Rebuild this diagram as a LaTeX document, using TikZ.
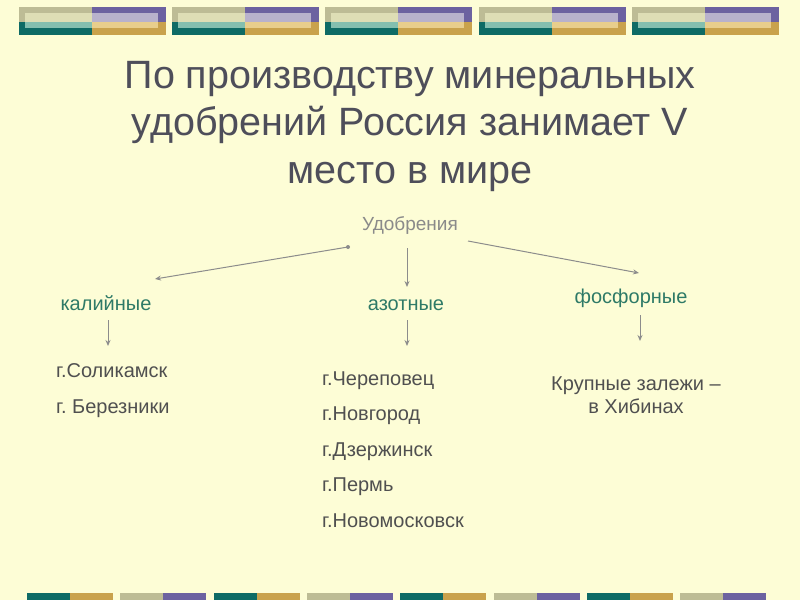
\documentclass[tikz,border=0pt]{standalone}
\usepackage{fontspec}
\setmainfont{Liberation Sans}
\usetikzlibrary{arrows.meta}
\frenchspacing
\definecolor{bg}{HTML}{FDFDD6}
\definecolor{olive}{HTML}{BDBC95}
\definecolor{cream}{HTML}{DEDEB5}
\definecolor{teald}{HTML}{0E6B65}
\definecolor{teall}{HTML}{84BFAF}
\definecolor{purp}{HTML}{6C62A0}
\definecolor{lav}{HTML}{B8B2CC}
\definecolor{gold}{HTML}{C9A24C}
\definecolor{goldl}{HTML}{E8CE8C}
\definecolor{titlec}{HTML}{4E4E5A}
\definecolor{catc}{HTML}{2E7A67}
\definecolor{listc}{HTML}{505050}
\definecolor{rootc}{HTML}{8A8A8A}
\definecolor{arrc}{HTML}{8C8C8C}
\tikzset{
  titletext/.style={anchor=base, text=titlec, font=\fontsize{39.5}{44}\selectfont, inner sep=0},
  roottext/.style={anchor=base, text=rootc, font=\fontsize{19}{22}\selectfont, inner sep=0},
  cattext/.style={anchor=base, text=catc, font=\fontsize{20}{23}\selectfont, inner sep=0},
  listtext/.style={anchor=base west, text=listc, font=\fontsize{20}{23}\selectfont, inner sep=0},
  ctrtext/.style={anchor=base, text=listc, font=\fontsize{20}{23}\selectfont, inner sep=0},
  conn/.style={draw=arrc, line width=1pt, -{Stealth[length=6pt,width=5pt]}},
}
\begin{document}
\begin{tikzpicture}[x=1pt,y=-1pt]
\fill[bg] (0,0) rectangle (800,600);
\useasboundingbox (0,0) rectangle (800,600);
% top bars
\foreach \i in {0,...,4}{
  \pgfmathsetmacro{\xa}{19+153.2*\i}
  \pgfmathsetmacro{\xm}{\xa+73}
  \pgfmathsetmacro{\xb}{\xa+147}
  \fill[olive] (\xa,7) rectangle (\xm,22);
  \fill[purp] (\xm,7) rectangle (\xb,22);
  \fill[teald] (\xa,22) rectangle (\xm,35);
  \fill[gold] (\xm,22) rectangle (\xb,35);
  \fill[cream] (\xa+6,13) rectangle (\xm,22);
  \fill[lav] (\xm,13) rectangle (\xb-8,22);
  \fill[teall] (\xa+6,22) rectangle (\xm,28);
  \fill[goldl] (\xm,22) rectangle (\xb-8,28);
}
% bottom bars
\foreach \i in {0,...,7}{
  \pgfmathsetmacro{\xa}{27+93.3*\i}
  \pgfmathsetmacro{\xm}{\xa+43}
  \pgfmathsetmacro{\xb}{\xa+86}
  \pgfmathparse{mod(\i,2)==0?1:0}
  \ifnum\pgfmathresult=1
    \fill[teald] (\xa,593) rectangle (\xm,600);
    \fill[gold] (\xm,593) rectangle (\xb,600);
  \else
    \fill[olive] (\xa,593) rectangle (\xm,600);
    \fill[purp] (\xm,593) rectangle (\xb,600);
  \fi
}
% title
\node[titletext] (t1) at (410,88) {По производству минеральных};
\node[titletext] (t2) at (410,135.5) {удобрений Россия занимает V};
\node[titletext] (t3) at (410,183) {место в мире};
% root and categories
\node[roottext] (root) at (410,230) {Удобрения};
\node[cattext] (kal) at (106,310) {калийные};
\node[cattext] (azot) at (406,310) {азотные};
\node[cattext] (fosf) at (631,303) {фосфорные};
% lists
\node[listtext] (sol) at (56,377) {г.Соликамск};
\node[listtext] (ber) at (56,413) {г. Березники};
\node[listtext] (cher) at (322,385) {г.Череповец};
\node[listtext] (nov) at (322,420.5) {г.Новгород};
\node[listtext] (dz) at (322,456) {г.Дзержинск};
\node[listtext] (perm) at (322,491.5) {г.Пермь};
\node[listtext] (nmk) at (322,527) {г.Новомосковск};
\node[ctrtext] (kr1) at (636,390) {Крупные залежи –};
\node[ctrtext] (kr2) at (636,413) {в Хибинах};
% connector end points
\coordinate (rL) at (348,247);
\coordinate (rM) at (407,248);
\coordinate (rR) at (468,241);
\coordinate (kalIn) at (155,279);
\coordinate (azIn) at (407,287);
\coordinate (fosIn) at (639,273);
\coordinate (kalOut) at (108,320);
\coordinate (kalList) at (108,346);
\coordinate (azOut) at (407,320);
\coordinate (azList) at (407,346);
\coordinate (fosOut) at (640,315);
\coordinate (fosList) at (640,341);
\fill[arrc] (rL) circle (2pt);
\draw[conn] (rL) -- (kalIn);
\draw[conn] (rM) -- (azIn);
\draw[conn] (rR) -- (fosIn);
\draw[conn] (kalOut) -- (kalList);
\draw[conn] (azOut) -- (azList);
\draw[conn] (fosOut) -- (fosList);
\end{tikzpicture}
\end{document}
